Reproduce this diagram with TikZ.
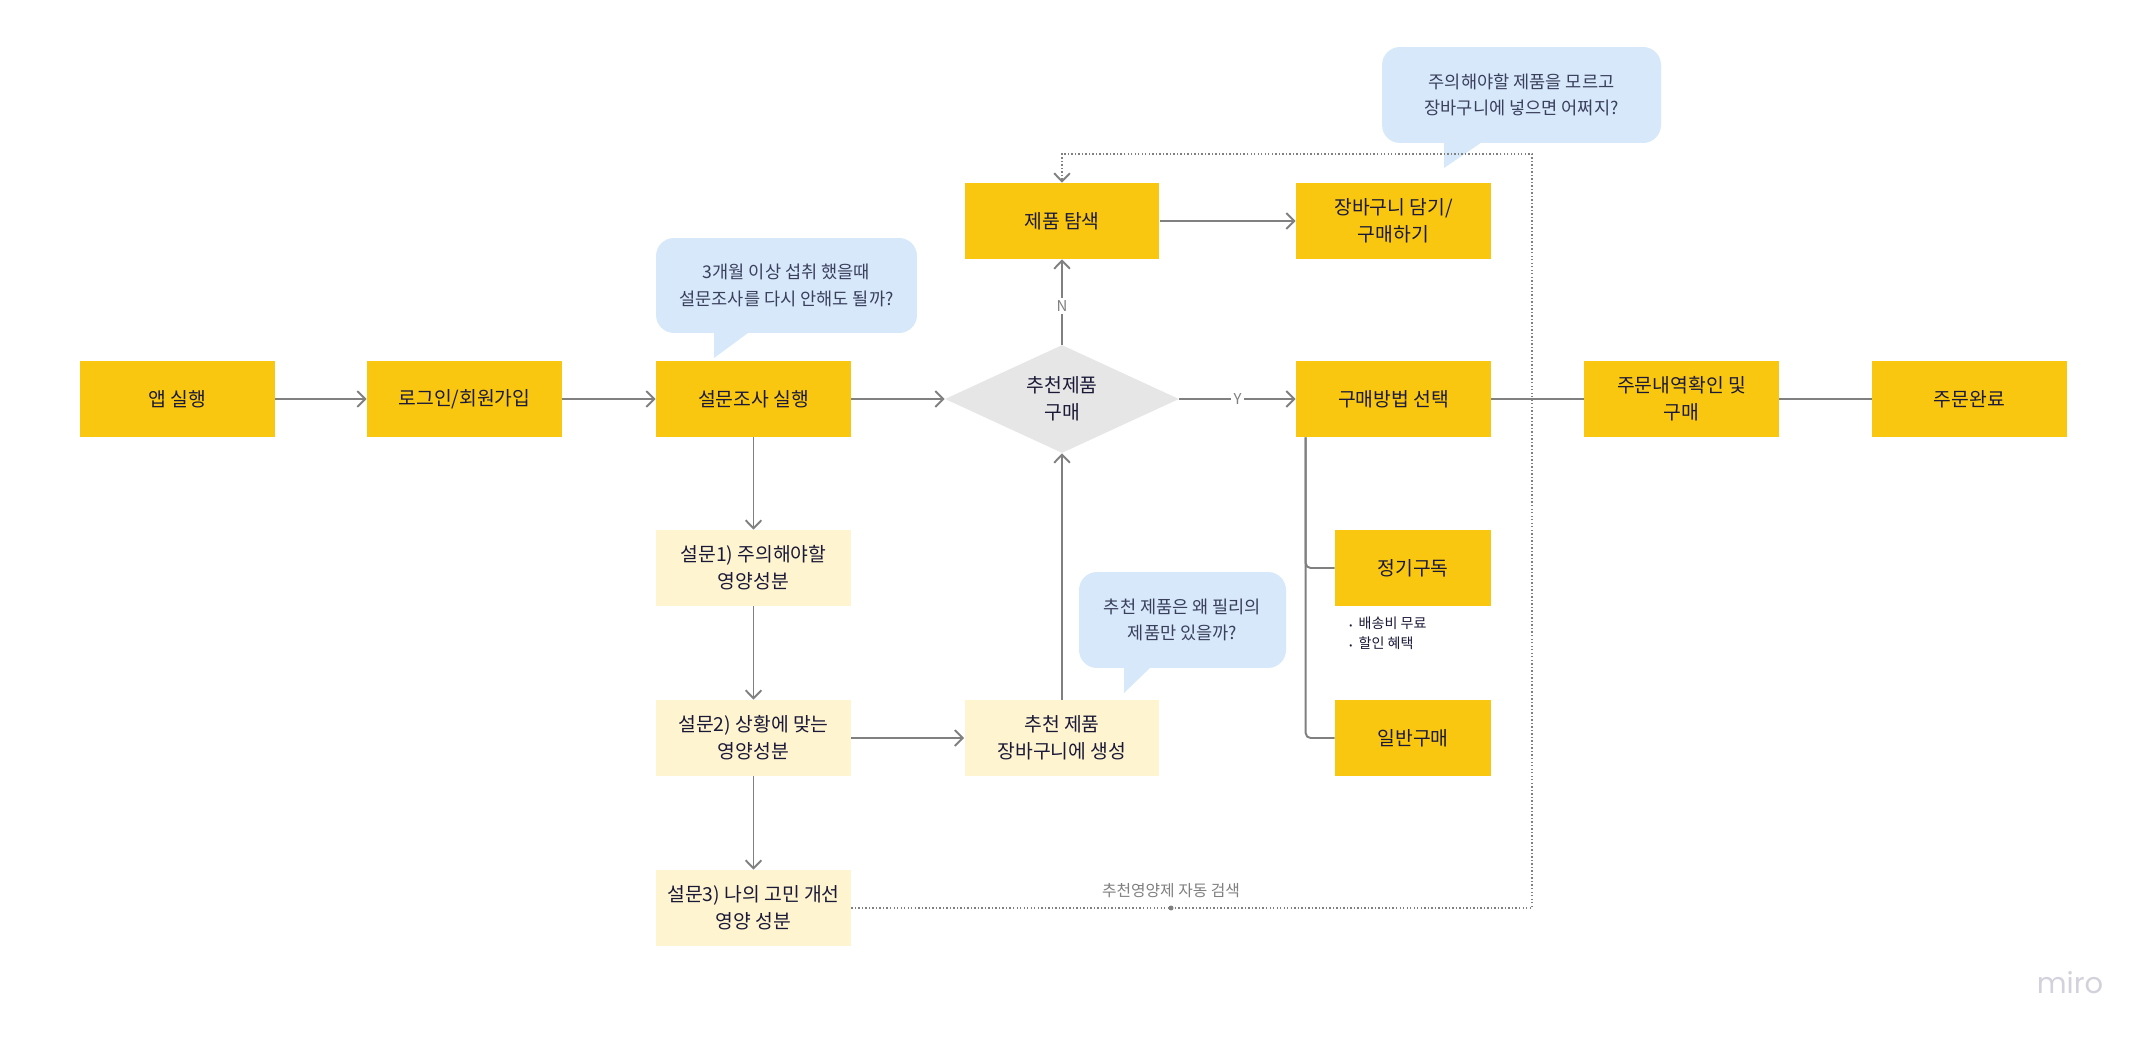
\documentclass[tikz,border=0pt]{standalone}
\usepackage{fontspec}
\setmainfont{Noto Sans CJK KR}
\newfontfamily\mirofont{Poppins}
\usetikzlibrary{shapes.geometric,arrows.meta}
\definecolor{stickyyellow}{HTML}{FAC710}
\definecolor{paleyellow}{HTML}{FFF4D0}
\definecolor{bubbleblue}{HTML}{D6E8F9}
\definecolor{decisiongray}{HTML}{E6E6E6}
\definecolor{inktext}{HTML}{1A1A38}
\definecolor{bubbletext}{HTML}{3A3F5C}
\definecolor{linegray}{HTML}{808080}
\definecolor{mirogray}{HTML}{D2D2DC}

\begin{document}
\begin{tikzpicture}[x=0.02cm, y=-0.02cm,
    stepbox/.style={fill=stickyyellow, text=inktext, minimum width=3.9cm, minimum height=1.52cm, inner sep=0pt, align=center, font=\fontsize{11}{15.4}\selectfont},
    palebox/.style={stepbox, fill=paleyellow},
    smallbox/.style={stepbox, minimum width=3.12cm},
    decision/.style={diamond, fill=decisiongray, text=inktext, minimum width=4.68cm, minimum height=2.16cm, inner sep=0pt, aspect=2.17, align=center, font=\fontsize{11}{15.4}\selectfont},
    bubble/.style={fill=bubbleblue, rounded corners=0.36cm, text=bubbletext, inner sep=0pt, align=center, font=\fontsize{10}{15.2}\selectfont},
    link/.style={draw=linegray, line width=1.1pt},
    arrowlink/.style={link, -{Straight Barb[length=4.6pt,width=9pt]}},
    dotlink/.style={draw=linegray, line width=0.8pt, dash pattern=on 0.8pt off 1.2pt, -{Straight Barb[length=4.6pt,width=9pt,line width=1.1pt]}},
    tag/.style={text=linegray, font=\fontsize{8.5}{10}\selectfont, fill=white, inner sep=1.5pt}]

    \useasboundingbox[fill=white] (0,0) rectangle (2155,1043);

    \node[stepbox] (app)    at (177.5,399) {앱 실행};
    \node[stepbox] (login)  at (464.5,399) {로그인/회원가입};
    \node[stepbox] (survey) at (753.5,399) {설문조사 실행};
    \node[decision] (dec)   at (1062,399) {추천제품\\구매};
    \node[stepbox] (method) at (1393.5,399) {구매방법 선택};
    \node[stepbox] (order)  at (1681.5,399) {주문내역확인 및\\구매};
    \node[stepbox] (done)   at (1969.5,399) {주문완료};
    \node[stepbox] (search) at (1062,221) {제품 탐색};
    \node[stepbox] (cart)   at (1393.5,221) {장바구니 담기/\\구매하기};
    \node[smallbox] (regular) at (1413,568) {정기구독};
    \node[smallbox] (normal)  at (1413,738) {일반구매};
    \node[palebox] (q1)  at (753.5,568) {설문1) 주의해야할\\영양성분};
    \node[palebox] (q2)  at (753.5,738) {설문2) 상황에 맞는\\영양성분};
    \node[palebox] (q3)  at (753.5,908) {설문3) 나의 고민 개선\\영양 성분};
    \node[palebox] (rec) at (1062,738) {추천 제품\\장바구니에 생성};

    \node[anchor=west, inner sep=0pt, text=inktext, align=left, font=\fontsize{8}{11.4}\selectfont] (perks) at (1349,633)
        {{\tiny•}\ \ 배송비 무료\\{\tiny•}\ \ 할인 혜택};

    \fill[bubbleblue] (714,330) -- (714,358) -- (752,330) -- cycle;
    \node[bubble, minimum width=5.22cm, minimum height=1.9cm] (ask1) at (786.5,285.5)
        {3개월 이상 섭취 했을때\\설문조사를 다시 안해도 될까?};
    \fill[bubbleblue] (1444,140) -- (1444,168) -- (1485,140) -- cycle;
    \node[bubble, minimum width=5.58cm, minimum height=1.92cm] (ask2) at (1521.5,95)
        {주의해야할 제품을 모르고\\장바구니에 넣으면 어쩌지?};
    \fill[bubbleblue] (1124,665) -- (1124,693) -- (1153,665) -- cycle;
    \node[bubble, minimum width=4.14cm, minimum height=1.92cm] (ask3) at (1182.5,620)
        {추천 제품은 왜 필리의\\제품만 있을까?};

    \draw[arrowlink] (app) -- (login);
    \draw[arrowlink] (login) -- (survey);
    \draw[arrowlink] (survey) -- (dec);
    \draw[arrowlink] (dec) -- node[tag] {Y} (method);
    \draw[arrowlink] (dec) -- node[tag, pos=0.45] {N} (search);
    \draw[arrowlink] (search) -- (cart);
    \draw[link] (method) -- (order);
    \draw[link] (order) -- (done);
    \draw[link, rounded corners=2.8pt] ([xshift=0.2cm]method.south west) |- (regular.west);
    \draw[link, rounded corners=2.8pt] ([xshift=0.2cm]method.south west) |- (normal.west);
    \draw[arrowlink] (survey) -- (q1);
    \draw[arrowlink] (q1) -- (q2);
    \draw[arrowlink] (q2) -- (q3);
    \draw[arrowlink] (q2) -- (rec);
    \draw[arrowlink] (rec) -- (dec);

    \coordinate (loop) at (1532,154);
    \draw[dotlink] (q3) -| (loop) -| (search);
    \fill[linegray] (1171,908) circle (0.05cm);
    \node[text=linegray, font=\fontsize{9}{10}\selectfont] (autotag) at (1171,891) {추천영양제 자동 검색};

    \node[anchor=base, text=mirogray, font=\mirofont\fontsize{16.5}{18}\selectfont] (brand) at (2070,993) {miro};
\end{tikzpicture}
\end{document}
